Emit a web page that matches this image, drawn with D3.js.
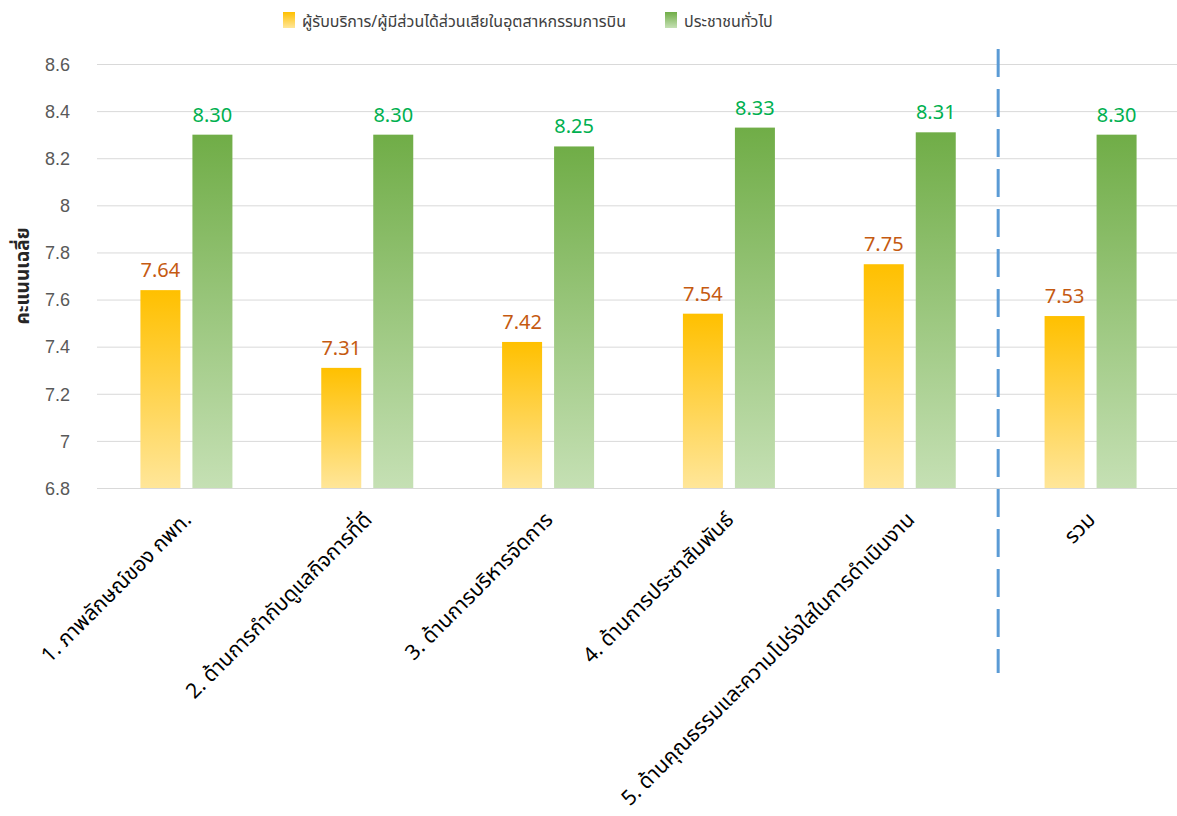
<!DOCTYPE html>
<html>
<head>
<meta charset="utf-8">
<script src="https://cdn.jsdelivr.net/npm/d3@7"></script>
<style>
  html, body { margin: 0; padding: 0; background: #ffffff; }
  svg { display: block; font-family: "Leelawadee UI", Tahoma, "Noto Sans Thai", "Noto Sans", sans-serif; }
</style>
</head>
<body>
<svg id="chart" width="1177" height="816"></svg>
<script>
// Survey scores by dimension, two respondent groups
const categories = [
  "1. ภาพลักษณ์ของ กพท.",
  "2. ด้านการกำกับดูแลกิจการที่ดี",
  "3. ด้านการบริหารจัดการ",
  "4. ด้านการประชาสัมพันธ์",
  "5. ด้านคุณธรรมและความโปร่งใสในการดำเนินงาน",
  "รวม"
];
const seriesNames = [
  "ผู้รับบริการ/ผู้มีส่วนได้ส่วนเสียในอุตสาหกรรมการบิน",
  "ประชาชนทั่วไป"
];
const stakeholderScores = [7.64, 7.31, 7.42, 7.54, 7.75, 7.53];
const publicScores = [8.30, 8.30, 8.25, 8.33, 8.31, 8.30];
const yTicks = [6.8, 7, 7.2, 7.4, 7.6, 7.8, 8, 8.2, 8.4, 8.6];
const yTitle = "คะแนนเฉลี่ย";

const rows = categories.map((c, i) => ({
  category: c,
  values: [stakeholderScores[i], publicScores[i]]
}));

const svg = d3.select("#chart");
const W = 1177;
const plot = { left: 96, right: 1181, top: 64, bottom: 488 };

const x = d3.scaleBand().domain(categories).range([plot.left, plot.right]).padding(0);
const xInner = d3.scaleBand().domain([0, 1]).range([-46, 46]).paddingInner(12 / 52);
const y = d3.scaleLinear().domain([6.8, 8.6]).range([plot.bottom, plot.top]);

const fills = [
  { id: "gradStake", top: "#FFC000", bottom: "#FFE699" },
  { id: "gradPublic", top: "#70AD47", bottom: "#C5E0B4" }
];
const labelColors = ["#C55A11", "#00B050"];

const defs = svg.append("defs");
fills.forEach(f => {
  const g = defs.append("linearGradient")
    .attr("id", f.id).attr("x1", 0).attr("y1", 0).attr("x2", 0).attr("y2", 1);
  g.append("stop").attr("offset", "0%").attr("stop-color", f.top);
  g.append("stop").attr("offset", "100%").attr("stop-color", f.bottom);
});

// Horizontal gridlines and tick labels
const yAxis = d3.axisLeft(y).tickValues(yTicks).tickSize(0).tickPadding(0)
  .tickFormat(d => d3.format("~g")(d));
const yG = svg.append("g").attr("transform", `translate(${plot.left},0)`).call(yAxis);
yG.select(".domain").remove();
yG.selectAll(".tick line")
  .attr("x1", 1).attr("x2", W - plot.left)
  .attr("stroke", "#d9d9d9").attr("stroke-width", 1);
yG.selectAll(".tick text")
  .attr("x", -26).attr("dy", "0.35em")
  .attr("fill", "#595959").attr("font-size", 18)
  .style("font-family", "inherit");

// Y axis title
svg.append("text")
  .attr("transform", `translate(22,${(plot.top + plot.bottom) / 2}) rotate(-90)`)
  .attr("text-anchor", "middle").attr("dy", "0.35em")
  .attr("font-size", 19).attr("font-weight", "bold").attr("fill", "#262626")
  .text(yTitle);

// Bars
const groups = svg.append("g").selectAll("g").data(rows).join("g")
  .attr("transform", d => `translate(${x(d.category) + x.bandwidth() / 2},0)`);

groups.selectAll("rect").data(d => d.values.map((v, k) => ({ v, k }))).join("rect")
  .attr("x", d => xInner(d.k))
  .attr("width", xInner.bandwidth())
  .attr("y", d => y(d.v))
  .attr("height", d => y(6.8) - y(d.v))
  .attr("fill", d => `url(#${fills[d.k].id})`);

groups.selectAll("text.val").data(d => d.values.map((v, k) => ({ v, k }))).join("text")
  .attr("class", "val")
  .attr("x", d => xInner(d.k) + xInner.bandwidth() / 2)
  .attr("y", d => y(d.v) - 13)
  .attr("text-anchor", "middle")
  .attr("font-size", 20)
  .attr("fill", d => labelColors[d.k])
  .text(d => d.v.toFixed(2));

// Category labels, rotated
svg.append("g").selectAll("text").data(categories).join("text")
  .attr("transform", d => `translate(${x(d) + x.bandwidth() / 2 + 6},${plot.bottom + 33}) rotate(-45)`)
  .attr("text-anchor", "end")
  .attr("font-size", 21)
  .attr("fill", "#000000")
  .text(d => d);

// Dashed separator before the overall column
const sepX = (x(categories[4]) + x.bandwidth() / 2 + x(categories[5]) + x.bandwidth() / 2) / 2 - 2;
svg.append("line")
  .attr("x1", sepX).attr("x2", sepX)
  .attr("y1", 49).attr("y2", 673)
  .attr("stroke", "#5B9BD5").attr("stroke-width", 3)
  .attr("stroke-dasharray", "28,12");

// Legend
const legendItems = [
  { name: seriesNames[0], fill: fills[0].id, x: 283 },
  { name: seriesNames[1], fill: fills[1].id, x: 665 }
];
const lg = svg.append("g").selectAll("g").data(legendItems).join("g")
  .attr("transform", d => `translate(${d.x},12)`);
lg.append("rect").attr("width", 12).attr("height", 16)
  .attr("fill", d => `url(#${d.fill})`);
lg.append("text").attr("x", 19).attr("y", 15)
  .attr("font-size", 16).attr("fill", "#404040")
  .text(d => d.name);
</script>
</body>
</html>
